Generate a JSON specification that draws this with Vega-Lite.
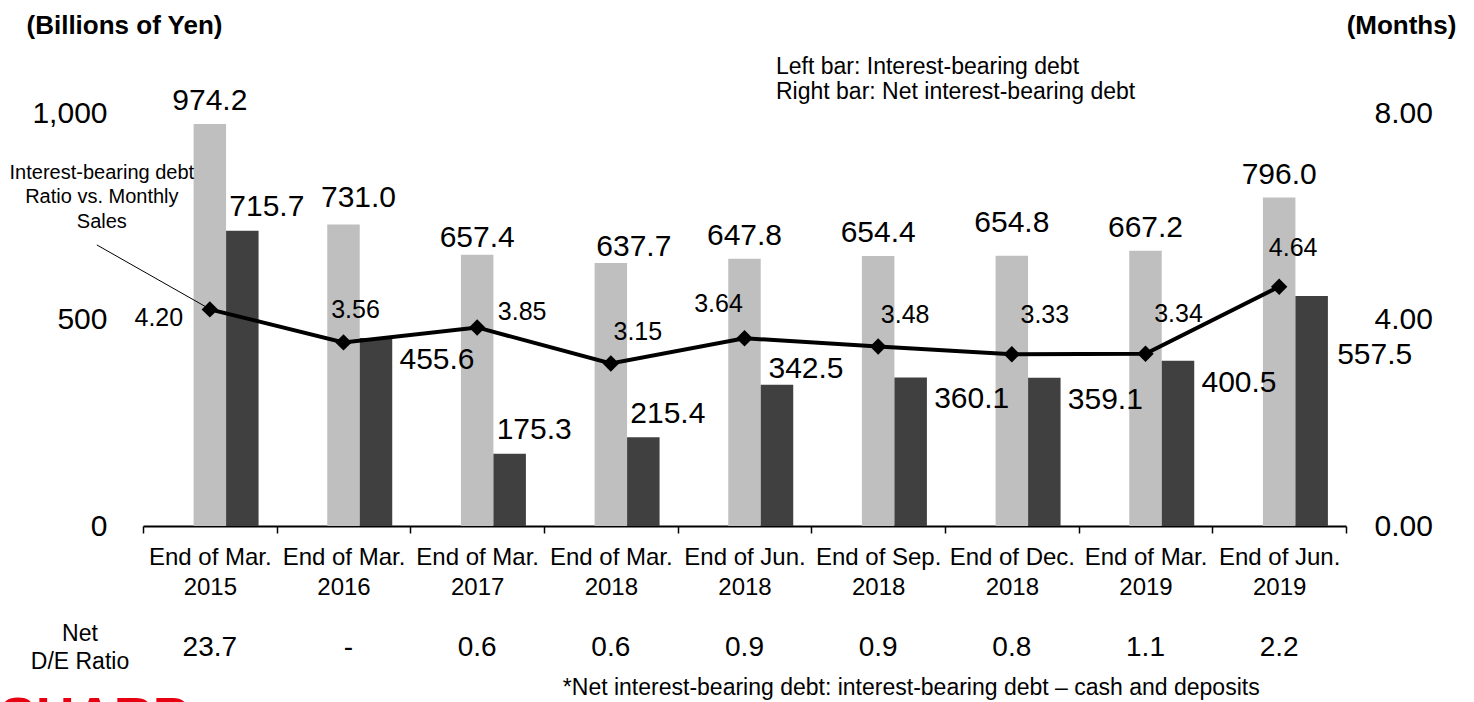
{
  "$schema": "https://vega.github.io/schema/vega-lite/v6.json",
  "width": 1203,
  "height": 412.6,
  "autosize": {"type": "none"},
  "padding": {"left": 143, "top": 113.4, "right": 128, "bottom": 176},
  "background": "white",
  "config": {
    "font": "Liberation Sans",
    "view": {"stroke": null},
    "text": {"font": "Liberation Sans", "color": "black"}
  },
  "data": {
    "values": [
      {"period": "End of Mar. 2015", "gross": 974.2, "net": 715.7, "ratio": 4.20, "de": "23.7"},
      {"period": "End of Mar. 2016", "gross": 731.0, "net": 455.6, "ratio": 3.56, "de": "-"},
      {"period": "End of Mar. 2017", "gross": 657.4, "net": 175.3, "ratio": 3.85, "de": "0.6"},
      {"period": "End of Mar. 2018", "gross": 637.7, "net": 215.4, "ratio": 3.15, "de": "0.6"},
      {"period": "End of Jun. 2018", "gross": 647.8, "net": 342.5, "ratio": 3.64, "de": "0.9"},
      {"period": "End of Sep. 2018", "gross": 654.4, "net": 360.1, "ratio": 3.48, "de": "0.9"},
      {"period": "End of Dec. 2018", "gross": 654.8, "net": 359.1, "ratio": 3.33, "de": "0.8"},
      {"period": "End of Mar. 2019", "gross": 667.2, "net": 400.5, "ratio": 3.34, "de": "1.1"},
      {"period": "End of Jun. 2019", "gross": 796.0, "net": 557.5, "ratio": 4.64, "de": "2.2"}
    ]
  },
  "encoding": {
    "x": {
      "field": "period",
      "type": "nominal",
      "sort": null,
      "scale": {"paddingInner": 0, "paddingOuter": 0},
      "axis": {
        "title": ["Net", "D/E Ratio"],
        "titleX": -63.5,
        "titleY": 107,
        "titleAngle": 0,
        "titleAlign": "center",
        "titleBaseline": "middle",
        "titleFontSize": 23,
        "titleFontWeight": "normal",
        "titleLineHeight": 28,
        "titleColor": "black",
        "labelExpr": "[slice(datum.label, 0, -5), slice(datum.label, -4)]",
        "labelFontSize": 24,
        "labelLineHeight": 30,
        "labelPadding": 12,
        "labelColor": "black",
        "labelAngle": 0,
        "labelBaseline": "top",
        "labelOverlap": false,
        "labelLimit": 0,
        "tickBand": "extent",
        "tickSize": 7,
        "tickColor": "black",
        "tickWidth": 1.5,
        "domainColor": "black",
        "domainWidth": 2,
        "grid": false
      }
    }
  },
  "layer": [
    {
      "layer": [
        {
          "mark": {"type": "bar", "width": {"band": 0.243}, "color": "#bfbfbf"},
          "encoding": {
            "y": {
              "field": "gross",
              "type": "quantitative",
              "scale": {"domain": [0, 1000], "nice": false, "zero": true},
              "axis": {
                "title": "(Billions of Yen)",
                "titleAngle": 0,
                "titleX": -19,
                "titleY": -88,
                "titleAlign": "center",
                "titleBaseline": "middle",
                "titleFontSize": 26,
                "titleFontWeight": "bold",
                "titleColor": "black",
                "values": [0, 500, 1000],
                "format": ",d",
                "labelFontSize": 30,
                "labelPadding": 36,
                "labelColor": "black",
                "ticks": false,
                "domain": false,
                "grid": false
              }
            }
          }
        },
        {
          "mark": {"type": "bar", "width": {"band": 0.243}, "xOffset": 32.5, "color": "#404040"},
          "encoding": {"y": {"field": "net", "type": "quantitative"}}
        },
        {
          "transform": [{"filter": {"field": "period", "oneOf": ["End of Mar. 2015", "End of Jun. 2018", "End of Sep. 2018", "End of Mar. 2019", "End of Jun. 2019"]}}],
          "mark": {"type": "text", "fontSize": 30, "baseline": "middle", "dy": -23},
          "encoding": {"y": {"field": "gross", "type": "quantitative"}, "text": {"field": "gross", "type": "quantitative", "format": ".1f"}}
        },
        {
          "transform": [{"filter": {"field": "period", "equal": "End of Mar. 2016"}}],
          "mark": {"type": "text", "fontSize": 30, "baseline": "middle", "dx": 15, "dy": -26},
          "encoding": {"y": {"field": "gross", "type": "quantitative"}, "text": {"field": "gross", "type": "quantitative", "format": ".1f"}}
        },
        {
          "transform": [{"filter": {"field": "period", "equal": "End of Mar. 2017"}}],
          "mark": {"type": "text", "fontSize": 30, "baseline": "middle", "dy": -17},
          "encoding": {"y": {"field": "gross", "type": "quantitative"}, "text": {"field": "gross", "type": "quantitative", "format": ".1f"}}
        },
        {
          "transform": [{"filter": {"field": "period", "equal": "End of Mar. 2018"}}],
          "mark": {"type": "text", "fontSize": 30, "baseline": "middle", "dx": 23, "dy": -16},
          "encoding": {"y": {"field": "gross", "type": "quantitative"}, "text": {"field": "gross", "type": "quantitative", "format": ".1f"}}
        },
        {
          "transform": [{"filter": {"field": "period", "equal": "End of Dec. 2018"}}],
          "mark": {"type": "text", "fontSize": 30, "baseline": "middle", "dy": -33},
          "encoding": {"y": {"field": "gross", "type": "quantitative"}, "text": {"field": "gross", "type": "quantitative", "format": ".1f"}}
        },
        {
          "transform": [{"filter": {"field": "period", "oneOf": ["End of Mar. 2015", "End of Mar. 2017", "End of Mar. 2018"]}}],
          "mark": {"type": "text", "fontSize": 30, "baseline": "middle", "dx": 57, "dy": -23.5},
          "encoding": {"y": {"field": "net", "type": "quantitative"}, "text": {"field": "net", "type": "quantitative", "format": ".1f"}}
        },
        {
          "transform": [{"filter": {"field": "period", "equal": "End of Jun. 2018"}}],
          "mark": {"type": "text", "fontSize": 30, "baseline": "middle", "dx": 61.5, "dy": -16},
          "encoding": {"y": {"field": "net", "type": "quantitative"}, "text": {"field": "net", "type": "quantitative", "format": ".1f"}}
        },
        {
          "transform": [{"filter": {"field": "period", "oneOf": ["End of Mar. 2016", "End of Sep. 2018", "End of Dec. 2018", "End of Mar. 2019"]}}],
          "mark": {"type": "text", "fontSize": 30, "baseline": "middle", "dx": 93.5, "dy": 22},
          "encoding": {"y": {"field": "net", "type": "quantitative"}, "text": {"field": "net", "type": "quantitative", "format": ".1f"}}
        },
        {
          "transform": [{"filter": {"field": "period", "equal": "End of Jun. 2019"}}],
          "mark": {"type": "text", "fontSize": 30, "baseline": "middle", "dx": 95.5, "dy": 59},
          "encoding": {"y": {"field": "net", "type": "quantitative"}, "text": {"field": "net", "type": "quantitative", "format": ".1f"}}
        },
        {
          "transform": [{"filter": {"field": "period", "oneOf": ["End of Mar. 2015", "End of Mar. 2017", "End of Mar. 2018", "End of Jun. 2018", "End of Sep. 2018", "End of Dec. 2018", "End of Mar. 2019", "End of Jun. 2019"]}}],
          "mark": {"type": "text", "fontSize": 28, "baseline": "middle", "dy": 121.5},
          "encoding": {"y": {"datum": 0}, "text": {"field": "de", "type": "nominal"}}
        },
        {
          "transform": [{"filter": {"field": "period", "equal": "End of Mar. 2016"}}],
          "mark": {"type": "text", "fontSize": 28, "baseline": "middle", "dx": 5, "dy": 121.5},
          "encoding": {"y": {"datum": 0}, "text": {"field": "de", "type": "nominal"}}
        },
        {
          "data": {"values": [{"note": "*Net interest-bearing debt: interest-bearing debt – cash and deposits"}]},
          "mark": {"type": "text", "fontSize": 23, "baseline": "middle", "align": "left", "dx": -48, "dy": 162},
          "encoding": {"x": {"datum": "End of Mar. 2018"}, "y": {"datum": 0}, "text": {"field": "note", "type": "nominal"}}
        },
        {
          "data": {"values": [{"line1": "Left bar: Interest-bearing debt", "line2": "Right bar: Net interest-bearing debt"}]},
          "mark": {"type": "text", "fontSize": 23, "baseline": "middle", "align": "left", "lineHeight": 25, "dx": 31.5},
          "encoding": {"x": {"datum": "End of Jun. 2018"}, "y": {"datum": 1113}, "text": {"value": ["Left bar: Interest-bearing debt", "Right bar: Net interest-bearing debt"]}}
        },
        {
          "data": {"values": [{"logo": "SHARP"}]},
          "mark": {"type": "text", "fontSize": 54, "fontWeight": "bold", "baseline": "alphabetic", "align": "left", "dx": -210, "dy": 209, "color": "#e60012"},
          "encoding": {"x": {"datum": "End of Mar. 2015"}, "y": {"datum": 0}, "text": {"field": "logo", "type": "nominal"}}
        }
      ]
    },
    {
      "layer": [
        {
          "mark": {"type": "line", "color": "black", "strokeWidth": 4},
          "encoding": {
            "y": {
              "field": "ratio",
              "type": "quantitative",
              "scale": {"domain": [0, 8], "nice": false, "zero": true},
              "axis": {
                "orient": "right",
                "title": "(Months)",
                "titleAngle": 0,
                "titleX": 55,
                "titleY": -88,
                "titleAlign": "center",
                "titleBaseline": "middle",
                "titleFontSize": 26,
                "titleFontWeight": "bold",
                "titleColor": "black",
                "values": [0, 4, 8],
                "format": ".2f",
                "labelFontSize": 30,
                "labelPadding": 28,
                "labelColor": "black",
                "ticks": false,
                "domain": false,
                "grid": false
              }
            }
          }
        },
        {
          "mark": {"type": "point", "shape": "diamond", "filled": true, "color": "black", "size": 270, "opacity": 1},
          "encoding": {"y": {"field": "ratio", "type": "quantitative"}}
        },
        {
          "transform": [{"filter": {"field": "period", "equal": "End of Mar. 2015"}}],
          "mark": {"type": "text", "fontSize": 25, "baseline": "middle", "dx": -51, "dy": 8.5},
          "encoding": {"y": {"field": "ratio", "type": "quantitative"}, "text": {"field": "ratio", "type": "quantitative", "format": ".2f"}}
        },
        {
          "transform": [{"filter": {"field": "period", "equal": "End of Mar. 2016"}}],
          "mark": {"type": "text", "fontSize": 25, "baseline": "middle", "dx": 12, "dy": -32.5},
          "encoding": {"y": {"field": "ratio", "type": "quantitative"}, "text": {"field": "ratio", "type": "quantitative", "format": ".2f"}}
        },
        {
          "transform": [{"filter": {"field": "period", "equal": "End of Jun. 2019"}}],
          "mark": {"type": "text", "fontSize": 25, "baseline": "middle", "dx": 14, "dy": -38.5},
          "encoding": {"y": {"field": "ratio", "type": "quantitative"}, "text": {"field": "ratio", "type": "quantitative", "format": ".2f"}}
        },
        {
          "transform": [{"filter": {"field": "period", "equal": "End of Mar. 2017"}}],
          "mark": {"type": "text", "fontSize": 25, "baseline": "middle", "dx": 45, "dy": -15.5},
          "encoding": {"y": {"field": "ratio", "type": "quantitative"}, "text": {"field": "ratio", "type": "quantitative", "format": ".2f"}}
        },
        {
          "transform": [{"filter": {"field": "period", "oneOf": ["End of Mar. 2018", "End of Sep. 2018"]}}],
          "mark": {"type": "text", "fontSize": 25, "baseline": "middle", "dx": 27, "dy": -31.5},
          "encoding": {"y": {"field": "ratio", "type": "quantitative"}, "text": {"field": "ratio", "type": "quantitative", "format": ".2f"}}
        },
        {
          "transform": [{"filter": {"field": "period", "equal": "End of Jun. 2018"}}],
          "mark": {"type": "text", "fontSize": 25, "baseline": "middle", "dx": -26, "dy": -34.5},
          "encoding": {"y": {"field": "ratio", "type": "quantitative"}, "text": {"field": "ratio", "type": "quantitative", "format": ".2f"}}
        },
        {
          "transform": [{"filter": {"field": "period", "oneOf": ["End of Dec. 2018", "End of Mar. 2019"]}}],
          "mark": {"type": "text", "fontSize": 25, "baseline": "middle", "dx": 33, "dy": -39.5},
          "encoding": {"y": {"field": "ratio", "type": "quantitative"}, "text": {"field": "ratio", "type": "quantitative", "format": ".2f"}}
        },
        {
          "data": {"values": [{"label": "leader"}]},
          "mark": {"type": "rule", "color": "black", "strokeWidth": 1, "xOffset": -113, "x2Offset": -4},
          "encoding": {"x": {"datum": "End of Mar. 2015"}, "x2": {"datum": "End of Mar. 2015"}, "y": {"datum": 5.45}, "y2": {"datum": 4.25}}
        },
        {
          "data": {"values": [{"l1": "Interest-bearing debt", "l2": "Ratio vs. Monthly", "l3": "Sales"}]},
          "mark": {"type": "text", "fontSize": 20, "baseline": "middle", "lineHeight": 24.5, "dx": -108},
          "encoding": {"x": {"datum": "End of Mar. 2015"}, "y": {"datum": 6.85}, "text": {"value": ["Interest-bearing debt", "Ratio vs. Monthly", "Sales"]}}
        }
      ]
    }
  ],
  "resolve": {"scale": {"y": "independent"}}
}
